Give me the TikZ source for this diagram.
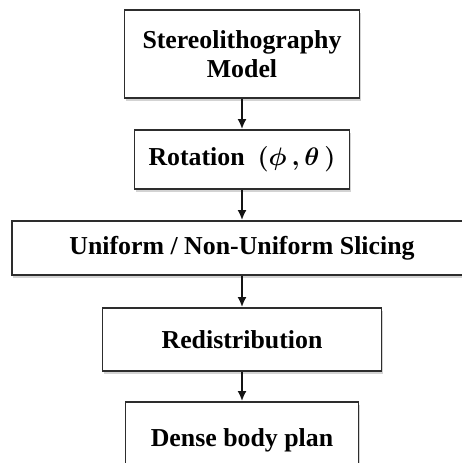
\documentclass[tikz,border=0pt]{standalone}
\usepackage{fontspec}
\setmainfont{Liberation Serif}
\usetikzlibrary{arrows.meta,shadows}

\begin{document}
\begin{tikzpicture}[>=Latex]

% Colors
\definecolor{boxdraw}{RGB}{45,45,45}
\definecolor{flowarrow}{RGB}{20,20,20}

% Styles
\tikzset{
  stepbox/.style={
    rectangle,
    draw=boxdraw,
    fill=white,
    line width=1.1pt,
    inner sep=0pt,
    align=center,
    font=\bfseries\fontsize{14.7}{16.5}\selectfont,
    drop shadow={shadow xshift=0.2mm, shadow yshift=-0.6mm, opacity=0.35}
  },
  flow/.style={
    -{Latex[length=2mm,width=1.8mm]},
    line width=1pt,
    draw=flowarrow
  }
}

% Page frame (box 3 and box 5 run over the edge)
\clip (0,0) rectangle (9.24,-9.26);

% Steps
\node[stepbox, minimum width=4.70cm, minimum height=1.76cm] (stl) at (4.84,-1.08)
  {Stereolithography\\Model};
\node[stepbox, minimum width=4.30cm, minimum height=1.18cm] (rot) at (4.84,-3.19)
  {Rotation\ \ {\boldmath$(\phi\,,\theta\,)$}};
\node[stepbox, minimum width=9.20cm, minimum height=1.08cm] (slice) at (4.84,-4.96)
  {Uniform / Non-Uniform Slicing};
\node[stepbox, minimum width=5.58cm, minimum height=1.26cm] (redist) at (4.84,-6.79)
  {Redistribution};
\node[stepbox, minimum width=4.66cm, minimum height=1.52cm] (plan) at (4.84,-8.80)
  {Dense body plan};

% Arrows
\draw[flow] (stl) -- (rot);
\draw[flow] (rot) -- (slice);
\draw[flow] (slice) -- (redist);
\draw[flow] (redist) -- (plan);

\end{tikzpicture}
\end{document}
